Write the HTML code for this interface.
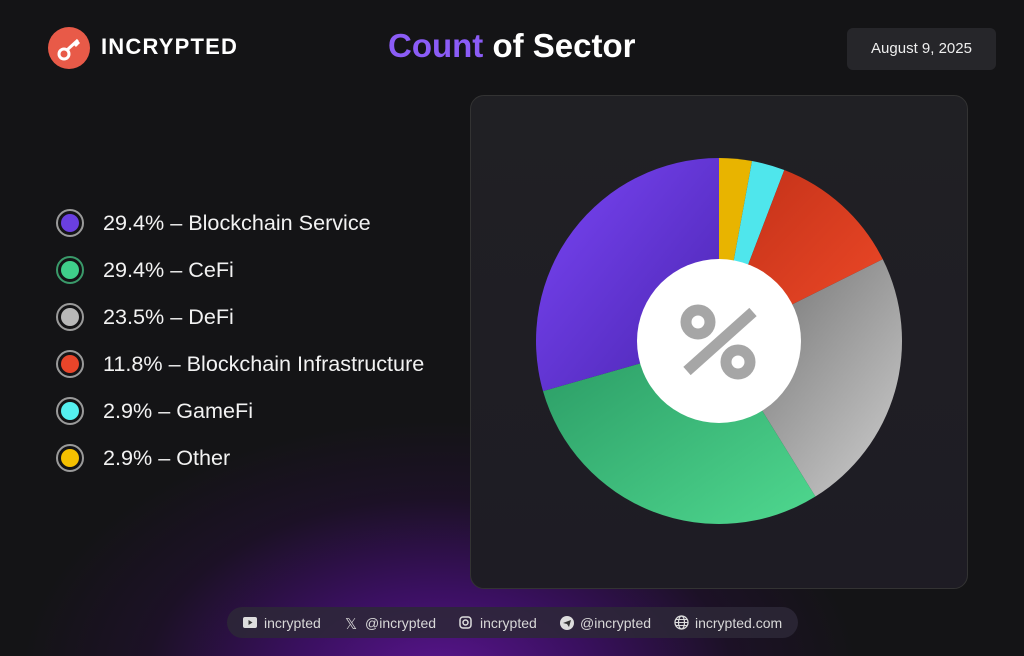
<!DOCTYPE html>
<html><head><meta charset="utf-8"><style>
body{margin:0;width:1024px;height:656px;overflow:hidden;font-family:"Liberation Sans",sans-serif;
background:radial-gradient(ellipse 420px 260px at 440px 680px,#5a1590 0%,#3a1060 35%,#1c1126 70%,#141416 100%),#141416;position:relative;color:#fff}
.abs{position:absolute}
.leg{position:absolute;left:56px;font-size:21.6px;color:#f2f2f2;display:flex;align-items:center}
.dot{width:24px;height:24px;border-radius:50%;border:2px solid #9a9a9a;margin-right:19px;position:relative}
.dot i{position:absolute;left:3px;top:3px;width:18px;height:18px;border-radius:50%}
.foot{position:absolute;left:227px;top:607px;width:571px;height:31px;border-radius:16px;background:rgba(45,40,55,0.85);font-size:14px;color:#d8d8d8;display:flex;align-items:center}
.foot span{position:absolute;top:8px}
</style></head><body>
<div class="abs" style="left:48px;top:27px;width:42px;height:42px;border-radius:50%;background:#e85a48"></div>
<svg class="abs" style="left:48px;top:27px" width="42" height="42"><circle cx="16" cy="27" r="5" fill="none" stroke="#fff" stroke-width="3"/><path d="M19 23 L30 13 M26 16 L29 19 M28 14 L31 17" stroke="#fff" stroke-width="3"/></svg>
<div class="abs" style="left:101px;top:34px;font-size:22px;font-weight:bold;letter-spacing:1.2px">INCRYPTED</div>
<div class="abs" style="left:388px;top:27px;font-size:33px;font-weight:bold"><span style="color:#8b5cf6">Count</span> of Sector</div>
<div class="abs" style="left:847px;top:28px;width:149px;height:42px;border-radius:6px;background:#26262a;font-size:15px;line-height:42px;text-align:center;color:#eee">August 9, 2025</div>

<div class="leg" style="top:209px"><div class="dot"><i style="background:#6a3fe0"></i></div>29.4% – Blockchain Service</div>
<div class="leg" style="top:256px"><div class="dot" style="border-color:#3a9a6a"><i style="background:#3fcf8a"></i></div>29.4% – CeFi</div>
<div class="leg" style="top:303px"><div class="dot"><i style="background:#b8b8b8"></i></div>23.5% – DeFi</div>
<div class="leg" style="top:350px"><div class="dot"><i style="background:#e8452a"></i></div>11.8% – Blockchain Infrastructure</div>
<div class="leg" style="top:397px"><div class="dot"><i style="background:#55f0f0"></i></div>2.9% – GameFi</div>
<div class="leg" style="top:444px"><div class="dot"><i style="background:#f5c000"></i></div>2.9% – Other</div>

<div class="abs" style="left:470px;top:95px;width:496px;height:492px;border-radius:14px;background:linear-gradient(180deg,#202024,#1e1c24);border:1px solid #333"></div>
<svg class="abs" style="left:0;top:0" width="1024" height="656">
<defs>
<linearGradient id="pu" x1="0" y1="0" x2="1" y2="1"><stop offset="0" stop-color="#7a45f5"/><stop offset="1" stop-color="#4a25b0"/></linearGradient>
<linearGradient id="gr" x1="0" y1="0" x2="1" y2="1"><stop offset="0" stop-color="#2a9a64"/><stop offset="1" stop-color="#4fd88f"/></linearGradient>
<linearGradient id="gy" x1="0" y1="0" x2="1" y2="1"><stop offset="0" stop-color="#6a6a6a"/><stop offset="1" stop-color="#cfcfcf"/></linearGradient>
<linearGradient id="rd" x1="0" y1="0" x2="1" y2="1"><stop offset="0" stop-color="#c03018"/><stop offset="1" stop-color="#f04a28"/></linearGradient>
</defs>
<path d="M719 341 L719 158 A183 183 0 0 1 752 161 Z" fill="#e8b400"/>
<path d="M719 341 L752 161 A183 183 0 0 1 784.3 170 Z" fill="#4fe6ec"/>
<path d="M719 341 L784.3 170 A183 183 0 0 1 882.8 259.3 Z" fill="url(#rd)"/>
<path d="M719 341 L882.8 259.3 A183 183 0 0 1 815.4 496.5 Z" fill="url(#gy)"/>
<path d="M719 341 L815.4 496.5 A183 183 0 0 1 543 391.1 Z" fill="url(#gr)"/>
<path d="M719 341 L543 391.1 A183 183 0 0 1 719 158 Z" fill="url(#pu)"/>
<circle cx="719" cy="341" r="82" fill="#fff"/>
<circle cx="698" cy="322" r="12" fill="none" stroke="#a6a6a6" stroke-width="11"/>
<circle cx="738" cy="362" r="12" fill="none" stroke="#a6a6a6" stroke-width="11"/>
<path d="M687 371 L753 312" stroke="#a6a6a6" stroke-width="11"/>
</svg>

<div class="foot">
<svg class="abs" style="left:16px;top:10px" width="14" height="11"><rect width="14" height="11" rx="2" fill="#ddd"/><path d="M5.5 3 L9.5 5.5 L5.5 8Z" fill="#333"/></svg>
<span style="left:37px">incrypted</span>
<span style="left:118px;font-size:15px">𝕏</span><span style="left:138px">@incrypted</span>
<svg class="abs" style="left:232px;top:9px" width="13" height="13"><rect x="1" y="1" width="11" height="11" rx="3" fill="none" stroke="#ddd" stroke-width="1.5"/><circle cx="6.5" cy="6.5" r="2.5" fill="none" stroke="#ddd" stroke-width="1.5"/></svg>
<span style="left:253px">incrypted</span>
<svg class="abs" style="left:333px;top:9px" width="14" height="14"><circle cx="7" cy="7" r="7" fill="#ddd"/><path d="M3 7 L11 4 L9 11 L7 8Z" fill="#333"/></svg>
<span style="left:353px">@incrypted</span>
<svg class="abs" style="left:447px;top:8px" width="15" height="15"><circle cx="7.5" cy="7.5" r="6.5" fill="none" stroke="#ddd" stroke-width="1.3"/><ellipse cx="7.5" cy="7.5" rx="3" ry="6.5" fill="none" stroke="#ddd" stroke-width="1.2"/><path d="M1 7.5H14M2 4.5H13M2 10.5H13" stroke="#ddd" stroke-width="1"/></svg>
<span style="left:468px">incrypted.com</span>
</div>
</body></html>
